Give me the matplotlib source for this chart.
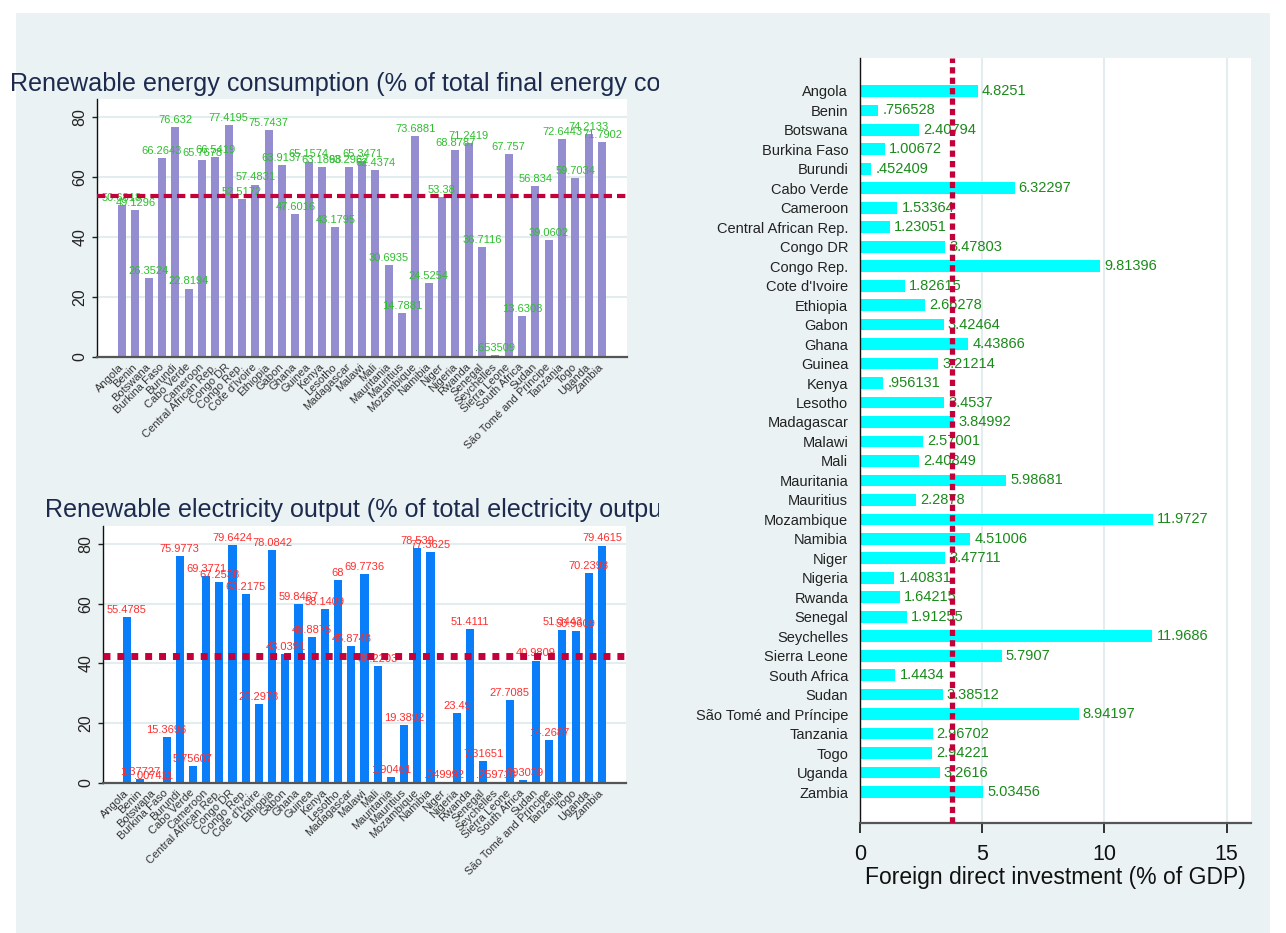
import numpy as np
import matplotlib
matplotlib.use("Agg")
import matplotlib.pyplot as plt
from matplotlib.patches import Rectangle
from matplotlib.transforms import Bbox, TransformedBbox

plt.rcParams['font.family'] = ['Liberation Sans', 'DejaVu Sans']
plt.rcParams['lines.scale_dashes'] = False

countries = ["Angola", "Benin", "Botswana", "Burkina Faso", "Burundi", "Cabo Verde",
             "Cameroon", "Central African Rep.", "Congo DR", "Congo Rep.", "Cote d'Ivoire",
             "Ethiopia", "Gabon", "Ghana", "Guinea", "Kenya", "Lesotho", "Madagascar",
             "Malawi", "Mali", "Mauritania", "Mauritius", "Mozambique", "Namibia", "Niger",
             "Nigeria", "Rwanda", "Senegal", "Seychelles", "Sierra Leone", "South Africa",
             "Sudan", "São Tomé and Príncipe", "Tanzania", "Togo", "Uganda", "Zambia"]

renew_energy = [50.6818, 49.1296, 26.3524, 66.2643, 76.632, 22.8194, 65.7678, 66.5419,
                77.4195, 52.5172, 57.4831, 75.7437, 63.9137, 47.6016, 65.1574, 63.1898,
                43.1795, 63.2962, 65.3471, 62.4374, 30.6935, 14.7881, 73.6881, 24.5254,
                53.38, 68.8787, 71.2419, 36.7116, 0.653509, 67.757, 13.6308, 56.834,
                39.0602, 72.6443, 59.7034, 74.2133, 71.7902]

renew_elec = [55.4785, 1.37727, 0.007411, 15.3696, 75.9773, 5.75607, 69.3771, 67.2538,
              79.6424, 63.2175, 26.2978, 78.0842, 43.0391, 59.8467, 48.8875, 58.1409,
              68, 45.8748, 69.7736, 39.2203, 1.90461, 19.3892, 78.539, 77.3625,
              0.349992, 23.49, 51.4111, 7.31651, 0.259718, 27.7085, 0.893039, 40.9809,
              14.2687, 51.3443, 50.9609, 70.2393, 79.4615]

fdi = [4.8251, 0.756528, 2.40794, 1.00672, 0.452409, 6.32297, 1.53364, 1.23051,
       3.47803, 9.81396, 1.82615, 2.66278, 3.42464, 4.43866, 3.21214, 0.956131,
       3.4537, 3.84992, 2.57001, 2.40849, 5.98681, 2.2878, 11.9727, 4.51006,
       3.47711, 1.40831, 1.64215, 1.91255, 11.9686, 5.7907, 1.4434, 3.38512,
       8.94197, 2.96702, 2.94221, 3.2616, 5.03456]

title_energy = "Renewable energy consumption (% of total final energy consumption)"
title_elec = "Renewable electricity output (% of total electricity output)"
xlabel_fdi = "Foreign direct investment (% of GDP)"
left_yticks = [0, 20, 40, 60, 80]
right_xticks = [0, 5, 10, 15]


def fmt(v):
    s = "%.6g" % v
    if s.startswith("0."):
        s = s[1:]
    return s


W, H = 1286, 933
fig = plt.figure(figsize=(W / 100, H / 100), dpi=100)
fig.patch.set_facecolor("white")
fig.patches.append(Rectangle((16 / W, 0), (1270 - 16) / W, 1 - 13 / H,
                             transform=fig.transFigure, facecolor="#EAF2F3",
                             edgecolor="none", zorder=-10))


def px_axes(l, t, r, b):
    return fig.add_axes([l / W, 1 - b / H, (r - l) / W, (b - t) / H])


BG_GRID = "#E3ECEF"
MEAN_C = "#C4003A"


def left_panel(ax, vals, color, lblcolor, dashes, lw, xlim):
    x = np.arange(1, len(vals) + 1)
    ax.set_facecolor("white")
    ax.set_xlim(*xlim)
    ax.set_ylim(0, 86)
    ax.set_yticks(left_yticks)
    ax.yaxis.grid(True, color=BG_GRID, lw=1.5, zorder=0)
    ax.set_axisbelow(True)
    ax.bar(x, vals, width=0.62, color=color, zorder=2)
    for xi, v in zip(x, vals):
        ax.annotate(fmt(v), (xi, v), xytext=(0, 1.5), textcoords="offset points",
                    ha="center", va="bottom", fontsize=8, color=lblcolor, zorder=3)
    ax.axhline(np.mean(vals), color=MEAN_C, lw=lw, dashes=dashes, zorder=4)
    ax.set_xticks(x)
    ax.set_xticklabels(countries, rotation=45, ha="right", va="center",
                       rotation_mode="anchor", fontsize=8, color="#333333")
    ax.tick_params(axis="x", length=0, pad=6)
    ax.tick_params(axis="y", length=3.6, width=1, pad=3.5, labelsize=11.5,
                   labelrotation=90, colors="#222222")
    for lab in ax.get_yticklabels():
        lab.set_va("center")
    for s in ["top", "right"]:
        ax.spines[s].set_visible(False)
    ax.spines["left"].set_color("#111111")
    ax.spines["left"].set_linewidth(1.0)
    ax.spines["bottom"].set_color("#555555")
    ax.spines["bottom"].set_linewidth(1.6)


ax1 = px_axes(97, 99, 627, 357)
left_panel(ax1, renew_energy, "#948ED0", "#2EBE2E", (6, 3.6), 3.0, (-0.875, 38.875))
ax2 = px_axes(103, 526, 626, 783)
left_panel(ax2, renew_elec, "#0A7EF8", "#FF2E2E", (5, 5), 5.0, (-0.82, 38.82))

# titles, clipped at the panel region edge
for txt, xpx, ypx, ytop, ybot in [(title_energy, 10, 91, 0, 100),
                                  (title_elec, 45, 517, 470, 525)]:
    t = fig.text(xpx / W, 1 - ypx / H, txt, ha="left", va="baseline",
                 fontsize=18.1, color="#1C2A4E")
    t.set_clip_on(True)
    t.set_clip_box(TransformedBbox(Bbox([[0, 1 - ybot / H], [659 / W, 1 - ytop / H]]),
                                   fig.transFigure))

# right panel
ax3 = px_axes(860, 58, 1251, 823)
y = np.arange(len(fdi))
ax3.set_facecolor("white")
ax3.set_xlim(0, 16)
ax3.set_ylim(len(fdi) - 1 + 1.59, -1.69)
ax3.set_xticks(right_xticks)
ax3.xaxis.grid(True, color=BG_GRID, lw=1.5, zorder=0)
ax3.set_axisbelow(True)
ax3.barh(y, fdi, height=0.6, color="#00FFFF", zorder=2)
for yi, v in zip(y, fdi):
    ax3.annotate(fmt(v), (v, yi), xytext=(3, 0), textcoords="offset points",
                 ha="left", va="center", fontsize=10.5, color="#1A8A1A", zorder=3)
ax3.axvline(np.mean(fdi), color=MEAN_C, lw=3.8, dashes=(4.5, 3), zorder=4)
ax3.set_yticks(y)
ax3.set_yticklabels(countries, fontsize=10.5, color="#222222")
ax3.tick_params(axis="y", length=0, pad=8.5)
ax3.tick_params(axis="x", length=7, width=1.2, pad=8, labelsize=15.5,
                colors="#111111")
ax3.set_xlabel(xlabel_fdi, fontsize=16.5, color="#111111", labelpad=1)
for s in ["top", "right"]:
    ax3.spines[s].set_visible(False)
ax3.spines["left"].set_color("#111111")
ax3.spines["left"].set_linewidth(1.0)
ax3.spines["bottom"].set_color("#555555")
ax3.spines["bottom"].set_linewidth(1.6)

fig.savefig("out.png", dpi=100)
